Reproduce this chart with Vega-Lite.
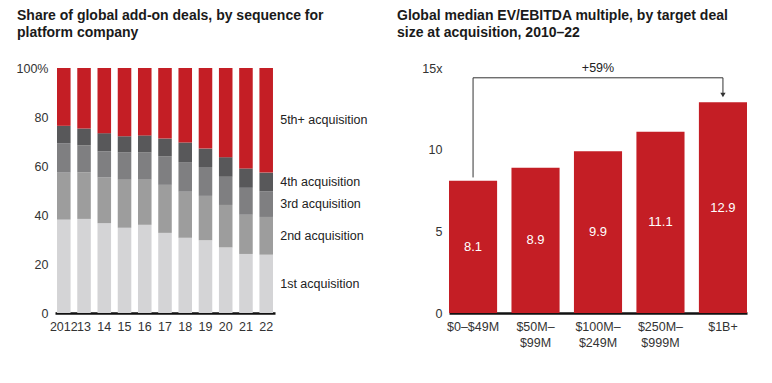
{
  "$schema": "https://vega.github.io/schema/vega-lite/v6.json",
  "padding": {"left": 16, "top": 9, "right": 5, "bottom": 5},
  "config": {
    "font": "Liberation Sans",
    "view": {"stroke": null},
    "axis": {"labelFont": "Liberation Sans", "labelFontSize": 12.5, "labelColor": "#333333", "ticks": false, "grid": false, "title": null},
    "title": {"font": "Liberation Sans", "fontSize": 14, "fontWeight": "bold", "color": "#1a1a1a", "lineHeight": 17, "anchor": "start", "frame": "group", "offset": 22}
  },
  "bounds": "flush",
  "spacing": 174,
  "hconcat": [
    {
      "width": 220,
      "height": 245,
      "title": {"text": ["Share of global add-on deals, by sequence for", "platform company"], "dx": -38},
      "data": {"values": [
        {"yr": "2012", "seq": "1st acquisition", "share": 38.1}, {"yr": "2012", "seq": "2nd acquisition", "share": 19.2}, {"yr": "2012", "seq": "3rd acquisition", "share": 12.0}, {"yr": "2012", "seq": "4th acquisition", "share": 7.1}, {"yr": "2012", "seq": "5th+ acquisition", "share": 23.6},
        {"yr": "13", "seq": "1st acquisition", "share": 38.4}, {"yr": "13", "seq": "2nd acquisition", "share": 19.0}, {"yr": "13", "seq": "3rd acquisition", "share": 11.0}, {"yr": "13", "seq": "4th acquisition", "share": 6.9}, {"yr": "13", "seq": "5th+ acquisition", "share": 24.7},
        {"yr": "14", "seq": "1st acquisition", "share": 36.7}, {"yr": "14", "seq": "2nd acquisition", "share": 18.6}, {"yr": "14", "seq": "3rd acquisition", "share": 10.7}, {"yr": "14", "seq": "4th acquisition", "share": 7.4}, {"yr": "14", "seq": "5th+ acquisition", "share": 26.6},
        {"yr": "15", "seq": "1st acquisition", "share": 34.8}, {"yr": "15", "seq": "2nd acquisition", "share": 19.6}, {"yr": "15", "seq": "3rd acquisition", "share": 11.1}, {"yr": "15", "seq": "4th acquisition", "share": 6.6}, {"yr": "15", "seq": "5th+ acquisition", "share": 27.9},
        {"yr": "16", "seq": "1st acquisition", "share": 36.0}, {"yr": "16", "seq": "2nd acquisition", "share": 18.4}, {"yr": "16", "seq": "3rd acquisition", "share": 11.1}, {"yr": "16", "seq": "4th acquisition", "share": 7.0}, {"yr": "16", "seq": "5th+ acquisition", "share": 27.5},
        {"yr": "17", "seq": "1st acquisition", "share": 32.7}, {"yr": "17", "seq": "2nd acquisition", "share": 19.6}, {"yr": "17", "seq": "3rd acquisition", "share": 11.7}, {"yr": "17", "seq": "4th acquisition", "share": 7.2}, {"yr": "17", "seq": "5th+ acquisition", "share": 28.8},
        {"yr": "18", "seq": "1st acquisition", "share": 30.7}, {"yr": "18", "seq": "2nd acquisition", "share": 18.8}, {"yr": "18", "seq": "3rd acquisition", "share": 12.1}, {"yr": "18", "seq": "4th acquisition", "share": 8.0}, {"yr": "18", "seq": "5th+ acquisition", "share": 30.4},
        {"yr": "19", "seq": "1st acquisition", "share": 29.7}, {"yr": "19", "seq": "2nd acquisition", "share": 18.1}, {"yr": "19", "seq": "3rd acquisition", "share": 11.8}, {"yr": "19", "seq": "4th acquisition", "share": 7.5}, {"yr": "19", "seq": "5th+ acquisition", "share": 32.9},
        {"yr": "20", "seq": "1st acquisition", "share": 26.8}, {"yr": "20", "seq": "2nd acquisition", "share": 17.3}, {"yr": "20", "seq": "3rd acquisition", "share": 11.5}, {"yr": "20", "seq": "4th acquisition", "share": 8.0}, {"yr": "20", "seq": "5th+ acquisition", "share": 36.4},
        {"yr": "21", "seq": "1st acquisition", "share": 24.1}, {"yr": "21", "seq": "2nd acquisition", "share": 16.0}, {"yr": "21", "seq": "3rd acquisition", "share": 11.0}, {"yr": "21", "seq": "4th acquisition", "share": 7.9}, {"yr": "21", "seq": "5th+ acquisition", "share": 41.0},
        {"yr": "22", "seq": "1st acquisition", "share": 23.8}, {"yr": "22", "seq": "2nd acquisition", "share": 15.4}, {"yr": "22", "seq": "3rd acquisition", "share": 10.5}, {"yr": "22", "seq": "4th acquisition", "share": 7.6}, {"yr": "22", "seq": "5th+ acquisition", "share": 42.7}
      ]},
      "layer": [
        {
          "mark": {"type": "bar"},
          "encoding": {
            "x": {"field": "yr", "type": "nominal", "sort": ["2012","13","14","15","16","17","18","19","20","21","22"],
                  "scale": {"paddingInner": 0.33, "paddingOuter": 0.1},
                  "axis": {"labelAngle": 0, "domainColor": "#111111", "domainWidth": 2.5, "labelPadding": 7}},
            "y": {"field": "share", "type": "quantitative", "stack": "zero",
                  "scale": {"domain": [0, 100], "nice": false},
                  "axis": {"values": [0, 20, 40, 60, 80, 100], "domain": false, "labelPadding": 7, "labelExpr": "datum.value == 100 ? '100%' : datum.label"}},
            "color": {"field": "seq", "type": "nominal", "legend": null,
                      "scale": {"domain": ["1st acquisition","2nd acquisition","3rd acquisition","4th acquisition","5th+ acquisition"],
                                "range": ["#d4d4d6","#9d9d9d","#7f7f81","#58585a","#c41e25"]}},
            "order": {"field": "seq", "sort": "ascending"}
          }
        },
        {
          "transform": [
            {"stack": "share", "groupby": ["yr"], "sort": [{"field": "seq"}], "as": ["s0", "s1"]},
            {"filter": "datum.yr == '22'"},
            {"calculate": "(datum.s0 + datum.s1) / 2", "as": "mid"}
          ],
          "mark": {"type": "text", "align": "left", "dx": 14, "fontSize": 12.5, "color": "#222222"},
          "encoding": {
            "x": {"field": "yr", "type": "nominal", "sort": ["2012","13","14","15","16","17","18","19","20","21","22"]},
            "y": {"field": "mid", "type": "quantitative"},
            "text": {"field": "seq"}
          }
        }
      ]
    },
    {
      "width": 298,
      "height": 245,
      "title": {"text": ["Global median EV/EBITDA multiple, by target deal", "size at acquisition, 2010–22"], "dx": -52},
      "layer": [
        {
          "data": {"values": [
            {"size": "$0–$49M", "mult": 8.1},
            {"size": "$50M–$99M", "mult": 8.9},
            {"size": "$100M–$249M", "mult": 9.9},
            {"size": "$250M–$999M", "mult": 11.1},
            {"size": "$1B+", "mult": 12.9}
          ]},
          "layer": [
            {
              "mark": {"type": "bar", "color": "#c41e25"},
              "encoding": {
                "x": {"field": "size", "type": "nominal", "sort": null,
                      "scale": {"paddingInner": 0.23, "paddingOuter": 0},
                      "axis": {"labelAngle": 0, "domainColor": "#111111", "domainWidth": 2.5, "labelPadding": 7, "labelLineHeight": 16,
                               "labelExpr": "datum.label == '$50M–$99M' ? ['$50M–', '$99M'] : datum.label == '$100M–$249M' ? ['$100M–', '$249M'] : datum.label == '$250M–$999M' ? ['$250M–', '$999M'] : datum.label"}},
                "y": {"field": "mult", "type": "quantitative", "scale": {"domain": [0, 15], "nice": false},
                      "axis": {"values": [0, 5, 10, 15], "domain": false, "labelPadding": 7, "labelExpr": "datum.value == 15 ? '15x' : datum.label"}}
              }
            },
            {
              "transform": [{"calculate": "datum.mult / 2", "as": "half"}],
              "mark": {"type": "text", "color": "white", "fontSize": 13, "baseline": "middle"},
              "encoding": {
                "x": {"field": "size", "type": "nominal", "sort": null},
                "y": {"field": "half", "type": "quantitative"},
                "text": {"field": "mult", "type": "quantitative", "format": ".1f"}
              }
            }
          ]
        },
        {
          "data": {"values": [
            {"cat": "$0–$49M", "y0": 8.3, "y1": 14.4},
            {"cat": "$1B+", "y0": 14.4, "y1": 13.4}
          ]},
          "mark": {"type": "rule", "color": "#333333", "strokeWidth": 1},
          "encoding": {
            "x": {"field": "cat", "type": "nominal", "sort": null},
            "y": {"field": "y0", "type": "quantitative"},
            "y2": {"field": "y1"}
          }
        },
        {
          "data": {"values": [{"from": "$0–$49M", "to": "$1B+", "yv": 14.4}]},
          "mark": {"type": "rule", "color": "#333333", "strokeWidth": 1},
          "encoding": {
            "x": {"field": "from", "type": "nominal", "sort": null},
            "x2": {"field": "to"},
            "y": {"field": "yv", "type": "quantitative"}
          }
        },
        {
          "data": {"values": [{"cat": "$1B+", "yv": 13.35}]},
          "mark": {"type": "point", "shape": "triangle-down", "filled": true, "color": "#333333", "size": 28, "opacity": 1},
          "encoding": {
            "x": {"field": "cat", "type": "nominal", "sort": null},
            "y": {"field": "yv", "type": "quantitative"}
          }
        },
        {
          "data": {"values": [{"cat": "$100M–$249M", "yv": 15, "lbl": "+59%"}]},
          "mark": {"type": "text", "fontSize": 12.5, "color": "#222222", "baseline": "middle"},
          "encoding": {
            "x": {"field": "cat", "type": "nominal", "sort": null},
            "y": {"field": "yv", "type": "quantitative"},
            "text": {"field": "lbl"}
          }
        }
      ]
    }
  ]
}
